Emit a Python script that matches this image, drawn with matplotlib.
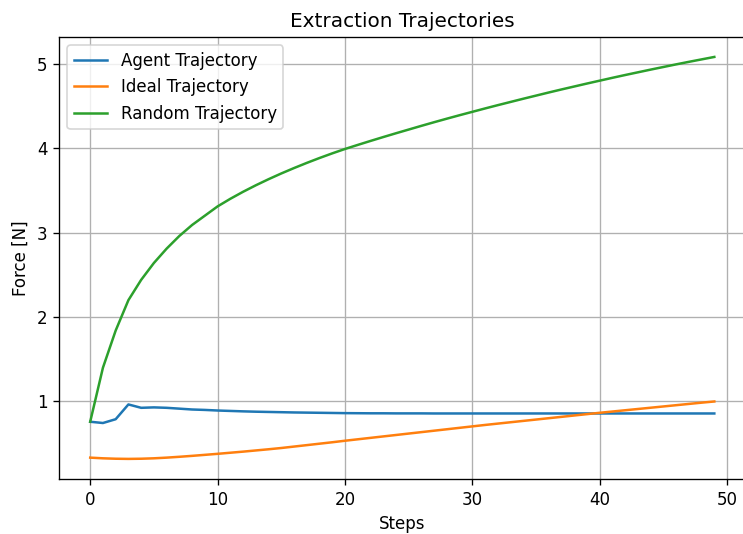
import matplotlib
matplotlib.use('Agg')
import matplotlib.pyplot as plt

steps = list(range(50))

agent = [0.76, 0.745, 0.79, 0.965, 0.925, 0.93, 0.925, 0.915, 0.905, 0.90,
         0.893, 0.888, 0.883, 0.879, 0.876, 0.873, 0.870, 0.868, 0.866, 0.864,
         0.862, 0.861, 0.860, 0.860, 0.859, 0.859, 0.859, 0.858, 0.858, 0.858,
         0.858, 0.858, 0.858, 0.858, 0.858, 0.858, 0.858, 0.858, 0.858, 0.858,
         0.858, 0.858, 0.858, 0.858, 0.858, 0.858, 0.858, 0.858, 0.858, 0.858]

ideal = [0.335, 0.327, 0.322, 0.320, 0.322, 0.327, 0.335, 0.345, 0.356, 0.368,
         0.380, 0.393, 0.406, 0.420, 0.434, 0.449, 0.466, 0.483, 0.500, 0.517,
         0.535, 0.552, 0.569, 0.586, 0.603, 0.620, 0.637, 0.654, 0.671, 0.688,
         0.705, 0.722, 0.738, 0.754, 0.770, 0.786, 0.802, 0.818, 0.834, 0.850,
         0.866, 0.881, 0.896, 0.911, 0.926, 0.941, 0.956, 0.971, 0.986, 1.000]

rand = [0.76, 1.40, 1.84, 2.20, 2.44, 2.64, 2.81, 2.96, 3.09, 3.20,
        3.31, 3.40, 3.483, 3.56, 3.632, 3.70, 3.764, 3.825, 3.883, 3.938,
        3.99, 4.038, 4.085, 4.131, 4.176, 4.220, 4.264, 4.307, 4.349, 4.390,
        4.430, 4.470, 4.509, 4.547, 4.585, 4.622, 4.659, 4.695, 4.730, 4.765,
        4.799, 4.833, 4.866, 4.898, 4.930, 4.961, 4.992, 5.022, 5.051, 5.080]

fig = plt.figure(figsize=(743 / 120, 534 / 120), dpi=120)
ax = fig.add_axes([0.0794, 0.103, 0.924, 0.828])
ax.plot(steps, agent, label='Agent Trajectory')
ax.plot(steps, ideal, label='Ideal Trajectory')
ax.plot(steps, rand, label='Random Trajectory')
ax.set_xlabel('Steps')
ax.set_ylabel('Force [N]')
ax.set_title('Extraction Trajectories')
ax.grid(True)
ax.legend(loc='upper left')
fig.savefig('out.png', dpi=120)
